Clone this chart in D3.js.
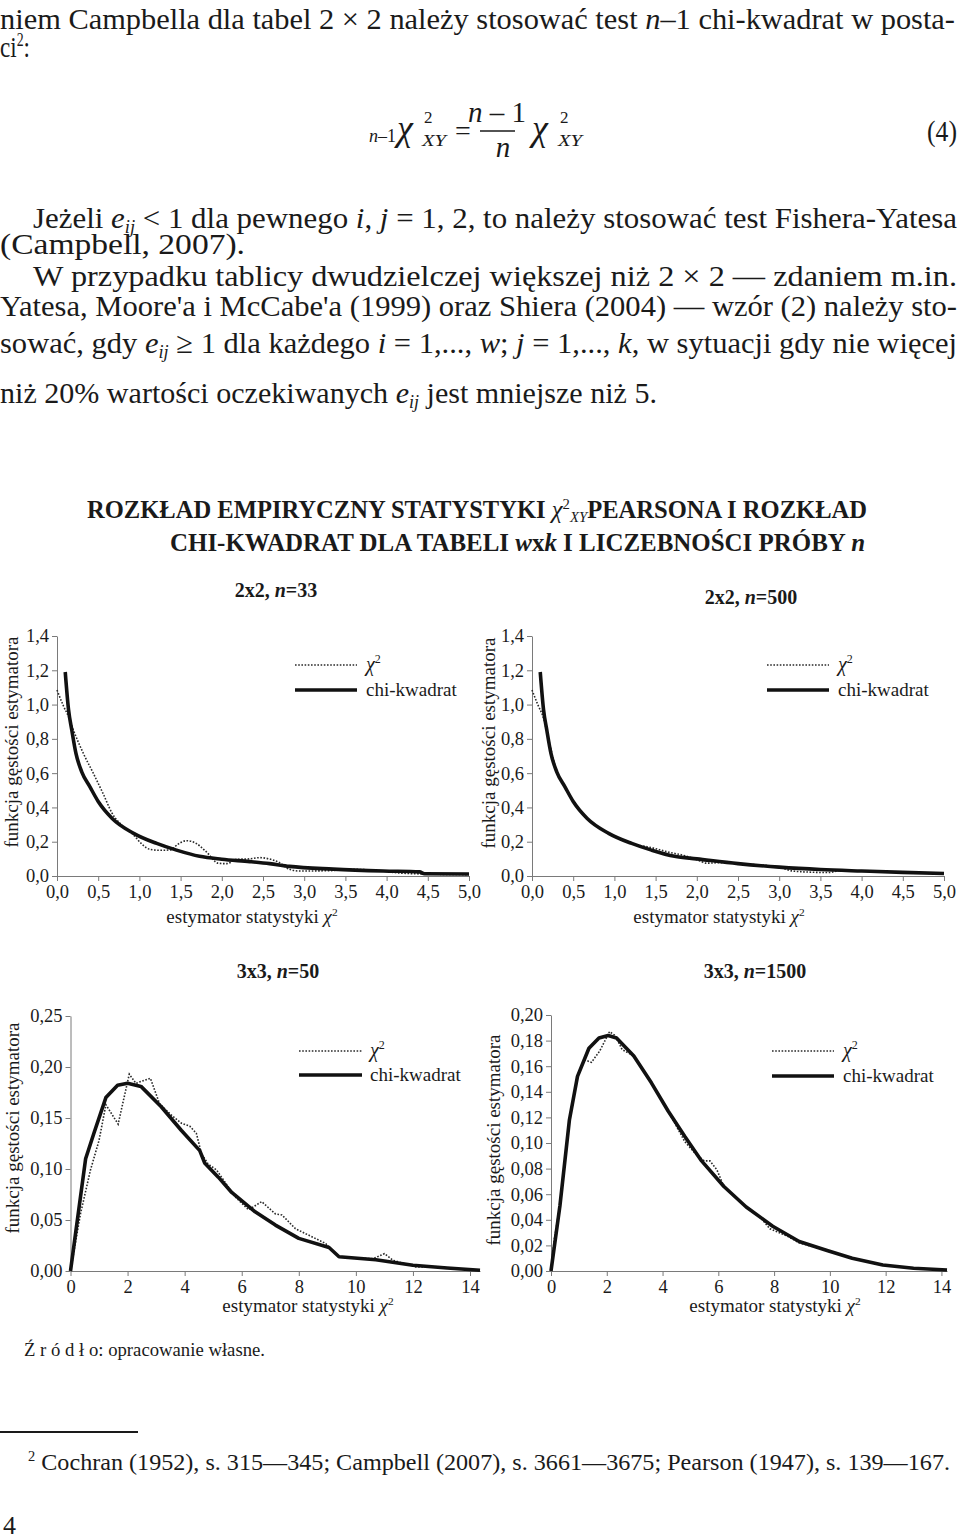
<!DOCTYPE html>
<html>
<head>
<meta charset="utf-8">
<script src="https://cdn.jsdelivr.net/npm/d3@7"></script>
<style>
  body { margin: 0; background: #fff; }
  svg text { font-family: "Liberation Serif", "Times New Roman", serif; fill: #1a1a1a; }
</style>
</head>
<body>
<svg id="page" width="960" height="1540"></svg>
<script>
// ---- tick values ----
const xTicks2x2 = [0, 0.5, 1, 1.5, 2, 2.5, 3, 3.5, 4, 4.5, 5];
const yTicks2x2 = [0, 0.2, 0.4, 0.6, 0.8, 1.0, 1.2, 1.4];
const xTicks3x3 = [0, 2, 4, 6, 8, 10, 12, 14];
const yTicks3x3_50 = [0, 0.05, 0.10, 0.15, 0.20, 0.25];
const yTicks3x3_1500 = [0, 0.02, 0.04, 0.06, 0.08, 0.10, 0.12, 0.14, 0.16, 0.18, 0.20];

// ---- 2x2, n=33 ----
const chiX_2x2_33 = [0.10, 0.14, 0.18, 0.23, 0.30, 0.40, 0.50, 0.67, 0.93, 1.21, 1.45, 1.73, 2.00, 2.34, 2.58, 2.82, 3.35, 3.96, 4.40, 4.46, 5.00];
const chiY_2x2_33 = [1.19, 0.97, 0.85, 0.715, 0.608, 0.52, 0.435, 0.336, 0.249, 0.19, 0.151, 0.115, 0.098, 0.084, 0.072, 0.056, 0.040, 0.029, 0.024, 0.013, 0.012];
const empX_2x2_33 = [0.00, 0.08, 0.14, 0.20, 0.32, 0.44, 0.56, 0.67, 0.80, 0.93, 1.03, 1.13, 1.25, 1.37, 1.47, 1.57, 1.69, 1.81, 1.96, 2.06, 2.18, 2.34, 2.46, 2.58, 2.70, 2.82, 2.94, 3.31, 3.55, 3.96, 4.12, 4.44, 5.00];
const empY_2x2_33 = [1.085, 0.99, 0.93, 0.85, 0.715, 0.60, 0.48, 0.365, 0.29, 0.239, 0.186, 0.155, 0.150, 0.152, 0.186, 0.206, 0.19, 0.142, 0.074, 0.072, 0.097, 0.100, 0.107, 0.099, 0.078, 0.039, 0.029, 0.031, 0.039, 0.029, 0.019, 0.012, 0.008];

// ---- 2x2, n=500 ----
const chiX_2x2_500 = [0.10, 0.14, 0.18, 0.23, 0.30, 0.40, 0.50, 0.67, 0.93, 1.21, 1.45, 1.73, 2.00, 2.50, 3.00, 3.50, 4.00, 4.50, 5.00];
const chiY_2x2_500 = [1.19, 0.97, 0.85, 0.715, 0.608, 0.52, 0.435, 0.336, 0.249, 0.19, 0.151, 0.115, 0.100, 0.072, 0.052, 0.038, 0.029, 0.021, 0.015];
const empX_2x2_500 = [0.00, 0.07, 0.14, 0.20, 0.30, 0.40, 0.50, 0.67, 0.93, 1.21, 1.48, 1.65, 1.84, 2.00, 2.12, 2.30, 2.50, 3.00, 3.15, 3.40, 3.60, 3.75, 4.00, 4.50, 5.00];
const empY_2x2_500 = [1.085, 1.00, 0.92, 0.80, 0.61, 0.52, 0.435, 0.336, 0.249, 0.19, 0.162, 0.14, 0.12, 0.095, 0.075, 0.078, 0.072, 0.052, 0.030, 0.022, 0.020, 0.033, 0.029, 0.021, 0.012];

// ---- 3x3, n=50 ----
const chiX_3x3_50 = [0, 0.53, 0.82, 1.24, 1.65, 2.0, 2.47, 3.18, 3.88, 4.53, 4.70, 5.18, 5.65, 6.47, 7.18, 8.0, 9.06, 9.41, 10.7, 12.0, 13.2, 14.35];
const chiY_3x3_50 = [0, 0.110, 0.135, 0.170, 0.182, 0.184, 0.181, 0.161, 0.138, 0.118, 0.106, 0.092, 0.077, 0.058, 0.045, 0.032, 0.023, 0.014, 0.011, 0.0056, 0.003, 0.0007];
const empX_3x3_50 = [0, 0.35, 0.70, 1.0, 1.24, 1.67, 2.06, 2.29, 2.80, 3.12, 3.53, 3.88, 4.18, 4.41, 4.59, 4.82, 5.12, 5.76, 6.24, 6.70, 7.18, 7.41, 7.88, 8.94, 9.41, 10.6, 11.0, 11.3, 12.1, 12.8, 13.3, 14.35];
const empY_3x3_50 = [0, 0.056, 0.099, 0.128, 0.163, 0.144, 0.193, 0.184, 0.189, 0.164, 0.153, 0.145, 0.142, 0.135, 0.115, 0.105, 0.099, 0.073, 0.060, 0.068, 0.056, 0.055, 0.0415, 0.027, 0.0137, 0.012, 0.017, 0.0105, 0.004, 0.004, 0.003, 0.0007];

// ---- 3x3, n=1500 ----
const chiX_3x3_1500 = [0, 0.32, 0.66, 0.95, 1.36, 1.72, 2.05, 2.35, 2.97, 3.6, 4.2, 4.8, 5.4, 6.2, 7.0, 7.95, 8.9, 9.9, 10.8, 11.9, 13.0, 14.2];
const chiY_3x3_1500 = [0, 0.051, 0.118, 0.152, 0.174, 0.182, 0.184, 0.182, 0.168, 0.147, 0.125, 0.105, 0.086, 0.066, 0.050, 0.035, 0.023, 0.016, 0.010, 0.0047, 0.0022, 0.0008];
const empX_3x3_1500 = [0, 0.12, 0.32, 0.66, 0.95, 1.2, 1.45, 1.75, 2.1, 2.3, 2.55, 2.97, 3.6, 4.2, 4.8, 5.25, 5.5, 5.7, 5.95, 6.2, 7.0, 7.5, 7.85, 8.5, 8.9, 9.9, 10.8, 11.9, 12.6, 13.0, 14.2];
const empY_3x3_1500 = [0, 0.025, 0.051, 0.118, 0.152, 0.165, 0.163, 0.172, 0.187, 0.184, 0.173, 0.168, 0.147, 0.125, 0.101, 0.090, 0.086, 0.086, 0.079, 0.066, 0.050, 0.042, 0.033, 0.027, 0.022, 0.016, 0.010, 0.0047, 0.003, 0.0024, 0.0008];

const svg = d3.select('#page');

// text made of styled pieces (italic, sub/superscripts)
function rich(x, y, parts, o = {}) {
  const size = o.size || 25;
  const t = svg.append('text').attr('x', x).attr('y', y).attr('font-size', size);
  if (o.anchor) t.attr('text-anchor', o.anchor);
  if (o.bold) t.attr('font-weight', 'bold');
  if (o.transform) t.attr('transform', o.transform);
  let shift = 0;
  parts.forEach(p => {
    if (typeof p === 'string') p = { t: p };
    const ts = t.append('tspan').text(p.t);
    let target = 0;
    if (p.sup) target = -size * 0.38;
    if (p.sub) target = size * 0.16;
    if (target !== shift) { ts.attr('dy', target - shift); shift = target; }
    if (p.sup || p.sub) ts.attr('font-size', size * 0.6);
    if (p.i) ts.attr('font-style', 'italic');
    if (p.b === 0) ts.attr('font-weight', 'normal');
    if (p.dx) ts.attr('dx', p.dx);
  });
  if (o.len) t.attr('textLength', o.len).attr('lengthAdjust', 'spacingAndGlyphs');
  return t;
}

// ---- body text ----
const BODY = 30;
const eij = [{ t: 'e', i: 1 }, { t: 'ij', i: 1, sub: 1 }];
rich(0, 29, ['niem Campbella dla tabel  2 × 2  należy stosować test ', { t: 'n', i: 1 }, '–1 chi-kwadrat w posta-'], { size: BODY, len: 955 });
rich(0, 57, ['ci', { t: '2', sup: 1 }, ':'], { size: BODY, len: 30 });

// equation (4)
rich(369, 142, [{ t: 'n', i: 1 }, '–1'], { size: 18 });
rich(397, 140, [{ t: 'χ', i: 1 }], { size: 36 });
rich(424, 123, ['2'], { size: 17 });
rich(422, 146, [{ t: 'XY', i: 1 }], { size: 17, len: 24 });
rich(455, 140, ['='], { size: 28 });
rich(497, 122, [{ t: 'n', i: 1 }, ' – 1'], { size: 29, anchor: 'middle' });
svg.append('line').attr('x1', 480).attr('x2', 515).attr('y1', 131).attr('y2', 131).attr('stroke', '#1a1a1a').attr('stroke-width', 1.3);
rich(503, 157, [{ t: 'n', i: 1 }], { size: 29, anchor: 'middle' });
rich(532, 140, [{ t: 'χ', i: 1 }], { size: 36 });
rich(560, 123, ['2'], { size: 17 });
rich(558, 146, [{ t: 'XY', i: 1 }], { size: 17, len: 24 });
rich(927, 141, ['(4)'], { size: 29, len: 30 });

rich(33, 228, ['Jeżeli  ', ...eij, ' < 1  dla pewnego  ', { t: 'i', i: 1 }, ', ', { t: 'j', i: 1 }, ' = 1, 2,  to należy stosować test Fishera-Yatesa'], { size: BODY, len: 924 });
rich(0, 254, ['(Campbell, 2007).'], { size: BODY, len: 245 });
rich(33, 286, ['W przypadku tablicy dwudzielczej większej niż  2 × 2  — zdaniem m.in.'], { size: BODY, len: 924 });
rich(0, 316, ["Yatesa, Moore'a i McCabe'a (1999) oraz Shiera (2004) — wzór (2) należy sto-"], { size: BODY, len: 957 });
rich(0, 353, ['sować, gdy ', ...eij, ' ≥ 1  dla każdego  ', { t: 'i', i: 1 }, ' = 1,..., ', { t: 'w', i: 1 }, ';  ', { t: 'j', i: 1 }, ' = 1,..., ', { t: 'k', i: 1 }, ',  w sytuacji gdy nie więcej'], { size: BODY, len: 957 });
rich(0, 403, ['niż 20% wartości oczekiwanych  ', ...eij, '  jest mniejsze niż 5.'], { size: BODY, len: 657 });

// ---- figure title ----
rich(87, 518, ['ROZKŁAD EMPIRYCZNY STATYSTYKI ', { t: 'χ', i: 1, b: 0 }, { t: '2', sup: 1, b: 0 }, { t: 'XY', sub: 1, i: 1, b: 0 }, 'PEARSONA I ROZKŁAD'], { size: 25, bold: true, len: 780 });
rich(170, 551, ['CHI-KWADRAT DLA TABELI ', { t: 'w', i: 1 }, 'x', { t: 'k', i: 1 }, ' I LICZEBNOŚCI PRÓBY ', { t: 'n', i: 1 }], { size: 25, bold: true, len: 695 });

const fmt0 = d => String(d);
const fmt1 = d => d.toFixed(1).replace('.', ',');
const fmt2 = d => d.toFixed(2).replace('.', ',');

const panels = [
  { title: ['2x2, ', { t: 'n', i: 1 }, '=33'], tx: 276, ty: 597,
    xr: [57, 469], xMax: 5, yr: [876, 636], yMax: 1.4,
    xTicks: xTicks2x2, yTicks: yTicks2x2, fx: fmt1, fy: fmt1,
    chiX: chiX_2x2_33, chiY: chiY_2x2_33, empX: empX_2x2_33, empY: empY_2x2_33, smooth: true,
    leg: [295, 357, 665, 690, 366], xlab: [252, 923], ylab: [18, 742] },
  { title: ['2x2, ', { t: 'n', i: 1 }, '=500'], tx: 751, ty: 604,
    xr: [532, 944], xMax: 5, yr: [876, 636], yMax: 1.4,
    xTicks: xTicks2x2, yTicks: yTicks2x2, fx: fmt1, fy: fmt1,
    chiX: chiX_2x2_500, chiY: chiY_2x2_500, empX: empX_2x2_500, empY: empY_2x2_500, smooth: true,
    leg: [767, 829, 665, 690, 838], xlab: [719, 923], ylab: [495, 743] },
  { title: ['3x3, ', { t: 'n', i: 1 }, '=50'], tx: 278, ty: 978,
    xr: [70.5, 480], xMax: 14.35, yr: [1271, 1016], yMax: 0.25,
    xTicks: xTicks3x3, yTicks: yTicks3x3_50, fx: fmt0, fy: fmt2,
    chiX: chiX_3x3_50, chiY: chiY_3x3_50, empX: empX_3x3_50, empY: empY_3x3_50, smooth: false,
    leg: [299, 362, 1051, 1075, 370], xlab: [308, 1312], ylab: [19, 1128] },
  { title: ['3x3, ', { t: 'n', i: 1 }, '=1500'], tx: 755, ty: 978,
    xr: [551, 947], xMax: 14.2, yr: [1271, 1015], yMax: 0.20,
    xTicks: xTicks3x3, yTicks: yTicks3x3_1500, fx: fmt0, fy: fmt2,
    chiX: chiX_3x3_1500, chiY: chiY_3x3_1500, empX: empX_3x3_1500, empY: empY_3x3_1500, smooth: false,
    leg: [772, 834, 1051, 1076, 843], xlab: [775, 1312], ylab: [500, 1140] }
];

const axisGrey = '#7a7a7a';

panels.forEach(p => {
  const x = d3.scaleLinear().domain([0, p.xMax]).range(p.xr);
  const y = d3.scaleLinear().domain([0, p.yMax]).range(p.yr);

  rich(p.tx, p.ty, p.title, { size: 20, bold: true, anchor: 'middle' });

  const gx = svg.append('g')
    .attr('transform', `translate(0,${p.yr[0]})`)
    .call(d3.axisBottom(x).tickValues(p.xTicks).tickFormat(p.fx).tickSize(5).tickSizeOuter(0).tickPadding(4));
  const gy = svg.append('g')
    .attr('transform', `translate(${p.xr[0]},0)`)
    .call(d3.axisLeft(y).tickValues(p.yTicks).tickFormat(p.fy).tickSize(5).tickSizeOuter(0).tickPadding(3));
  [gx, gy].forEach(a => {
    a.attr('font-size', 18.5).attr('color', '#1a1a1a');
    a.selectAll('.domain, .tick line').attr('stroke', axisGrey).attr('stroke-width', 1);
  });

  const line = d3.line()
    .x(d => x(d[0]))
    .y(d => y(d[1]))
    .curve(p.smooth ? d3.curveMonotoneX : d3.curveLinear);

  svg.append('path')
    .datum(d3.zip(p.empX, p.empY))
    .attr('d', line)
    .attr('fill', 'none')
    .attr('stroke', '#2a2a2a')
    .attr('stroke-width', 1.6)
    .attr('stroke-dasharray', '1.6 1.6');

  svg.append('path')
    .datum(d3.zip(p.chiX, p.chiY))
    .attr('d', line)
    .attr('fill', 'none')
    .attr('stroke', '#111')
    .attr('stroke-width', 3.6)
    .attr('stroke-linejoin', 'round');

  // legend
  const [l1, l2, yd, ys, lt] = p.leg;
  svg.append('line').attr('x1', l1).attr('x2', l2).attr('y1', yd).attr('y2', yd)
    .attr('stroke', '#2a2a2a').attr('stroke-width', 1.6).attr('stroke-dasharray', '1.6 1.6');
  svg.append('line').attr('x1', l1).attr('x2', l2).attr('y1', ys).attr('y2', ys)
    .attr('stroke', '#111').attr('stroke-width', 3.6);
  rich(lt, yd + 6, [{ t: 'χ', i: 1 }, { t: '2', sup: 1 }], { size: 20 });
  rich(lt, ys + 6, ['chi-kwadrat'], { size: 19 });

  // axis titles
  rich(p.xlab[0], p.xlab[1], ['estymator statystyki ', { t: 'χ', i: 1 }, { t: '2', sup: 1 }], { size: 19, anchor: 'middle' });
  rich(0, 0, ['funkcja gęstości estymatora'], { size: 19, anchor: 'middle', transform: `translate(${p.ylab[0]},${p.ylab[1]}) rotate(-90)` });
});

// ---- source and footnote ----
rich(24, 1356, ['Ź r ó d ł o: opracowanie własne.'], { size: 18, len: 241 });
svg.append('line').attr('x1', 0).attr('x2', 138).attr('y1', 1432).attr('y2', 1432).attr('stroke', '#1a1a1a').attr('stroke-width', 2);
rich(28, 1470, [{ t: '2', sup: 1 }, ' Cochran (1952), s. 315—345; Campbell (2007), s. 3661—3675; Pearson (1947), s. 139—167.'], { size: 23, len: 922 });
rich(3, 1534, ['4'], { size: 26 });
</script>
</body>
</html>
